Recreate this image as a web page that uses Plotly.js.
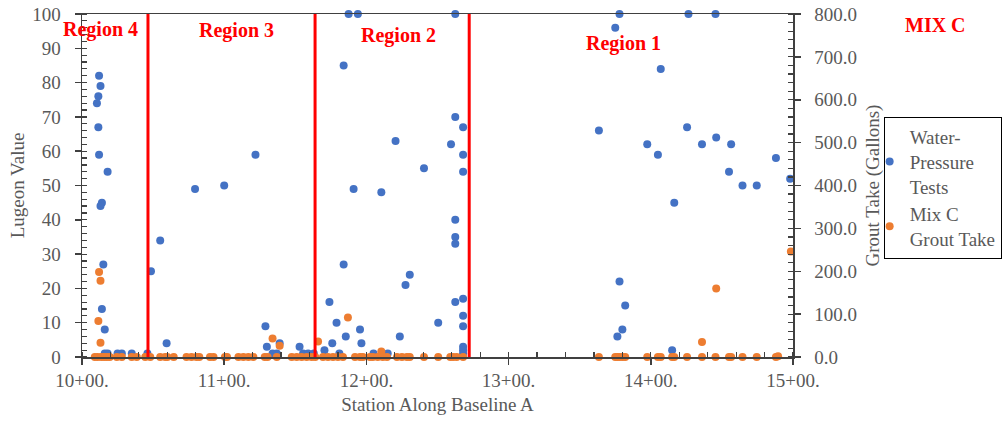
<!DOCTYPE html>
<html>
<head>
<meta charset="utf-8">
<script src="https://cdn.plot.ly/plotly-3.0.1.min.js"></script>
<style>html,body{margin:0;padding:0;background:#fff;}#chart{width:1003px;height:425px;}</style>
</head>
<body>
<div id="chart"></div>
<script>
// Station along baseline A, in feet (10+00 = 1000 ft)
const lugeonStation = [
  1012,1013,1011.5,1010.5,1011.5,1012,1018,1014,1013,1015,1014,1016,1016,1018,1025,1028,1035,1046,
  1048.5,1055,1059.5,1079.5,1100,1122,1129,1130,1134,1137,1139,1153,1155.5,1159,1163,
  1170.5,1174,1176,1179,1181,1184,1184,1185.5,1187.5,1191,1194,1195.5,1196.5,1205,1210.5,1215,1220.5,1223.5,1227.5,1230.5,1240.5,1250.5,1259.5,
  1262.5,1262.5,1262.5,1262.5,1262.5,1262.5,1268,1268,1268,1268,1268,1268,1268,1268,1268,
  1363.5,1375,1376.5,1378,1378,1380,1382,1397.5,1405,1407,1415,1416.5,1425.5,1426.5,1436,1445.5,1446,1455,1456.5,1464.5,1474.5,1488,1498
];
const lugeonValue = [
  82,79,76,74,67,59,54,45,44,27,14,8,1,1,1,1,1,1,
  25,34,4,49,50,59,9,3,1,1,4,3,1,1,1,
  2,16,4,10,1,85,27,6,100,49,100,8,4,1,48,1,63,6,21,24,55,10,62,
  100,70,40,35,33,16,67,59,54,17,12,9,3,2,1,
  66,96,6,100,22,8,15,62,59,84,2,45,67,100,62,100,64,54,62,50,50,58,52
];
const groutStation = [
  1012,1013,1011.5,1013,1134,1139,1166,1187,1210.5,1436,1446,1498.5,
  1009,1011,1013.5,1015.5,1017.5,1019.5,1024.5,1028,1035,1038.5,1044.5,1048,1055,1058.5,1060,1064.5,
  1073.5,1077,1080.5,1082.5,1090,1092.5,1100.5,1102,1110,1113.5,1117,1120.5,1128.5,1130.5,1137,
  1147.5,1151,1154.5,1158,1161.5,1164,1169.5,1173,1176.5,1180,1183.5,1192,1195.5,1197.5,1202.5,
  1204.5,1208,1211.5,1214.5,1221.5,1225,1228.5,1230.5,1240.5,1250.5,1259,1261,1263.5,1268,
  1363.5,1375,1376.5,1378,1380,1382,1397.5,1405,1407,1415,1416.5,1425.5,1436,1445.5,1455,1456.5,1464.5,1474.5,1488,1489.5
];
const groutTake = [
  198,178,84,33,43,26,36,92,13,35,160,246,
  0,0,0,0,0,0,0,0,0,0,0,0,0,0,0,0,
  0,0,0,0,0,0,0,0,0,0,0,0,0,0,0,
  0,0,0,0,0,0,0,0,0,0,0,0,0,0,0,
  0,0,0,0,0,0,0,0,0,0,0,0,0,0,
  0,0,0,0,0,0,0,0,0,0,0,0,0,0,0,0,0,0,0,2
];
const tickVals = [1000,1100,1200,1300,1400,1500];
const tickText = ["10+00.","11+00.","12+00.","13+00.","14+00.","15+00."];
const regionBounds = [1046.4,1163.9,1272.3];
const regionNames = ["Region 4","Region 3","Region 2","Region 1"];
const regionLabelX = [1013,1108.6,1222.6,1380.8];
const regionLabelY = [95.6,95.3,93.6,91.5];

const serif = "Liberation Serif, Times New Roman, serif";
const gray = "#595959";
const axisCol = "#404040";

const traces = [
  {x: lugeonStation, y: lugeonValue, type: 'scatter', mode: 'markers', name: 'Water-<br>Pressure<br>Tests',
   marker: {color: '#4472C4', size: 8}, cliponaxis: false, yaxis: 'y'},
  {x: groutStation, y: groutTake, type: 'scatter', mode: 'markers', name: 'Mix C<br>Grout Take',
   marker: {color: '#ED7D31', size: 8}, cliponaxis: false, yaxis: 'y2'}
];

const shapes = regionBounds.map(b => ({type: 'line', xref: 'x', yref: 'y', x0: b, x1: b, y0: 0, y1: 100,
  line: {color: '#FF0000', width: 3}}));

const annotations = regionNames.map((t, i) => ({text: t, x: regionLabelX[i], y: regionLabelY[i], xref: 'x', yref: 'y',
  showarrow: false, font: {family: serif, size: 20, color: '#FF0000', weight: 'bold'}}));
annotations.push({text: '<b>MIX C</b>', xref: 'paper', yref: 'paper', x: 1.2, y: 0.968,
  xanchor: 'center', yanchor: 'middle', showarrow: false,
  font: {family: serif, size: 20, color: '#FF0000'}});

const layout = {
  width: 1003, height: 425,
  margin: {l: 82, r: 210, t: 14, b: 68, pad: 0},
  paper_bgcolor: '#fff', plot_bgcolor: '#fff',
  font: {family: serif, size: 19, color: gray},
  showlegend: true,
  legend: {xref: 'container', yref: 'container', x: 0.881, y: 0.725, xanchor: 'left', yanchor: 'top',
    bordercolor: '#000', borderwidth: 1, indentation: -15,
    font: {family: serif, size: 19, color: gray}, tracegroupgap: 4},
  xaxis: {range: [1000, 1500], tickvals: tickVals, ticktext: tickText, showgrid: false, zeroline: false,
    showline: true, linecolor: axisCol, linewidth: 1.5, mirror: true,
    ticks: 'outside', ticklen: 6, tickcolor: axisCol, tickwidth: 1.5,
    minor: {dtick: 20, ticks: 'inside', ticklen: 5, tickcolor: axisCol, tickwidth: 1.2},
    tickfont: {family: serif, size: 19, color: gray},
    title: {text: 'Station Along Baseline A', font: {family: serif, size: 19, color: gray}, standoff: 7}},
  yaxis: {range: [0, 100], dtick: 10, showgrid: false, zeroline: false,
    showline: true, linecolor: axisCol, linewidth: 1.5,
    ticks: 'outside', ticklen: 6, tickcolor: axisCol, tickwidth: 1.5, ticklabelstandoff: 10,
    minor: {dtick: 2, ticks: 'inside', ticklen: 5, tickcolor: axisCol, tickwidth: 1.2},
    tickfont: {family: serif, size: 19, color: gray},
    title: {text: 'Lugeon Value', font: {family: serif, size: 19, color: gray}, standoff: 2}},
  yaxis2: {range: [0, 800], dtick: 100, tickformat: '.1f', overlaying: 'y', side: 'right', showgrid: false, zeroline: false,
    showline: true, linecolor: axisCol, linewidth: 1.5,
    ticks: 'outside', ticklen: 6, tickcolor: axisCol, tickwidth: 1.5, ticklabelstandoff: 10,
    minor: {dtick: 20, ticks: 'inside', ticklen: 5, tickcolor: axisCol, tickwidth: 1.2},
    tickfont: {family: serif, size: 19, color: gray},
    title: {text: 'Grout Take (Gallons)', font: {family: serif, size: 19, color: gray}, standoff: 26}},
  shapes: shapes,
  annotations: annotations
};

Plotly.newPlot('chart', traces, layout, {staticPlot: true, displayModeBar: false});
</script>
</body>
</html>
